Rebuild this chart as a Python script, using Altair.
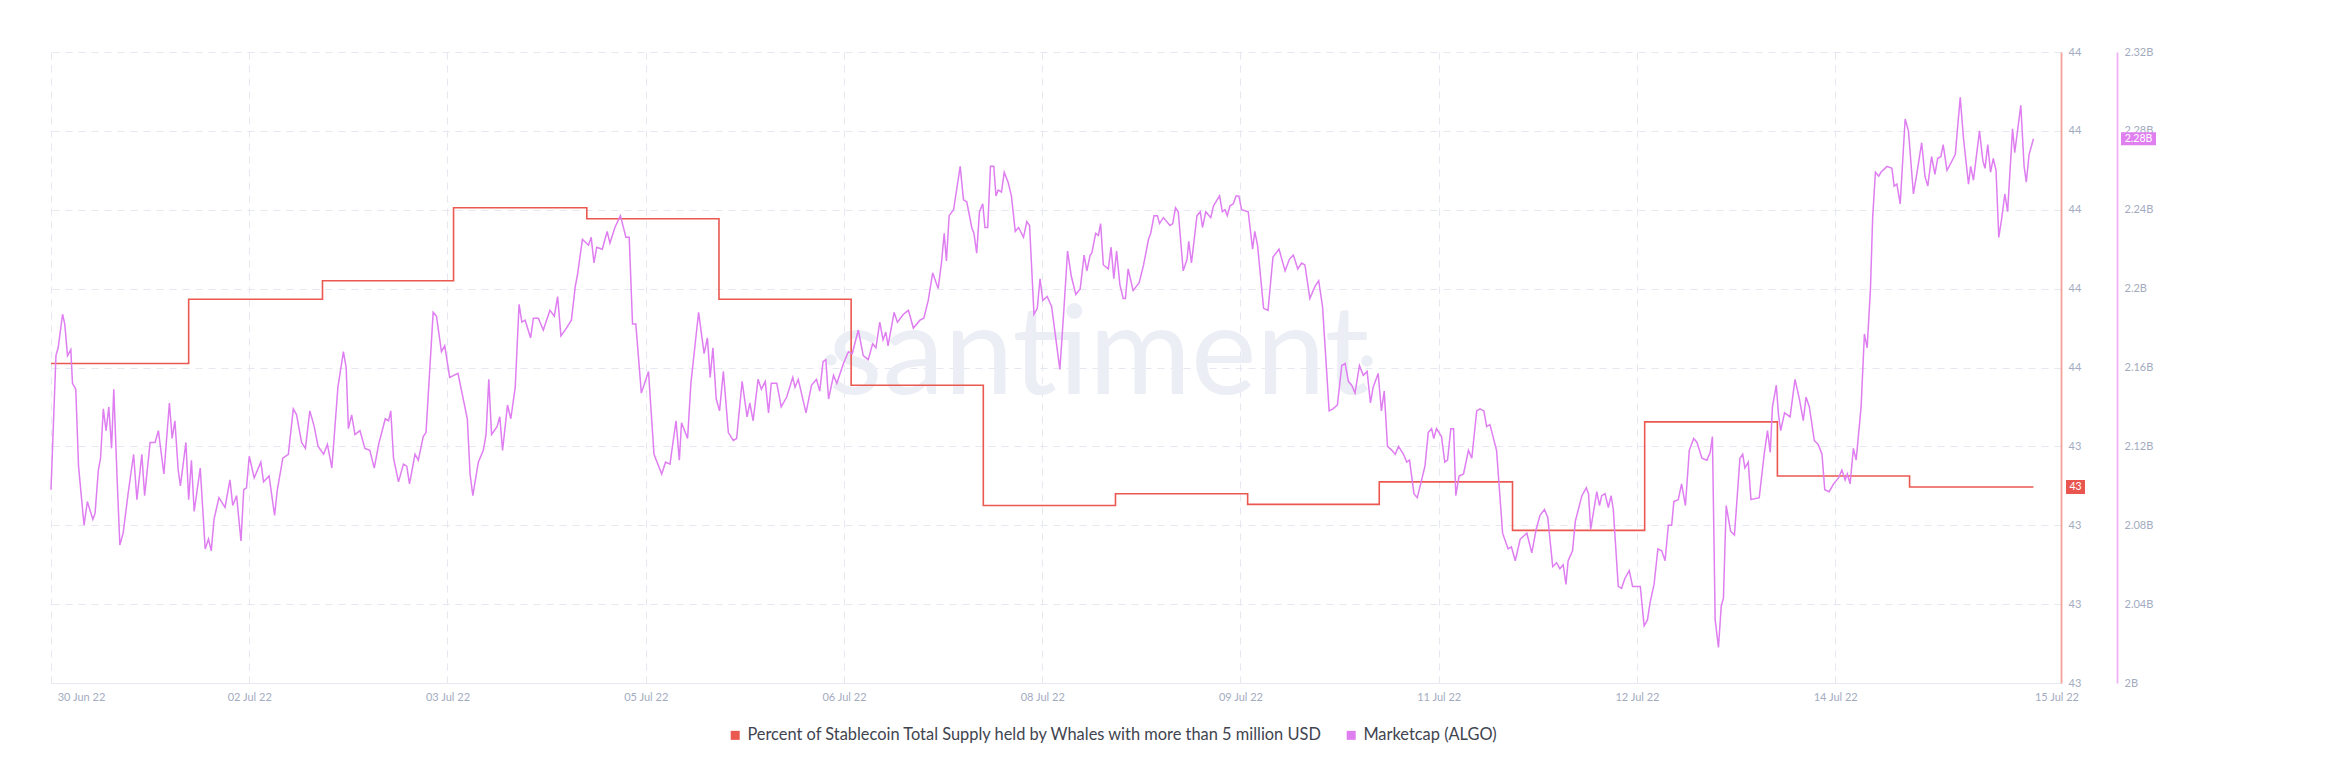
import altair as alt
import pandas as pd

SERIES = ["Percent of Stablecoin Total Supply held by Whales with more than 5 million USD",
          "Marketcap (ALGO)"]
SERIES_COLORS = ["#ea5850", "#df7ef1"]

X_TICK_HOURS = [0, 36, 72, 108, 144, 180, 216, 252, 288, 324, 360]
X_TICK_LABELS = ["30 Jun 22", "02 Jul 22", "03 Jul 22", "05 Jul 22", "06 Jul 22", "08 Jul 22",
                 "09 Jul 22", "11 Jul 22", "12 Jul 22", "14 Jul 22", "15 Jul 22"]

RED_TICKS = [43.15, 43.25, 43.35, 43.45, 43.55, 43.65, 43.75, 43.85, 43.95]
MCAP_TICKS = [2.0, 2.04, 2.08, 2.12, 2.16, 2.2, 2.24, 2.28, 2.32]
MCAP_TICK_LABELS = ["2B", "2.04B", "2.08B", "2.12B", "2.16B", "2.2B", "2.24B", "2.28B", "2.32B"]

# stablecoin whale share (%), step series: hour of change -> level
RED_HOURS = [0, 25.0, 49.3, 73.1, 97.3, 121.3, 145.3, 169.3, 193.3, 217.3, 241.2, 265.4,
             289.4, 313.5, 337.5, 360]
RED_VALUES = [43.555, 43.6365, 43.66, 43.7525, 43.7385, 43.6365, 43.5275, 43.375, 43.39,
              43.3765, 43.405, 43.3435, 43.481, 43.4125, 43.3985, 43.3985]

# ALGO marketcap (billions USD), hours since 30 Jun 22 00:00
MCAP_HOURS = [
    0.0, 0.9, 1.3, 2.1, 2.5, 3.0, 3.6, 3.9, 4.5, 5.0, 6.0, 6.6, 7.6, 8.0, 8.6, 9.0, 9.5, 10.0,
    10.5, 11.0, 11.4, 12.0, 12.5, 13.1, 14.0, 15.0, 15.6, 16.5, 17.0, 18.0, 18.9, 19.5, 20.5,
    21.5, 22.0, 22.5, 23.1, 23.5, 24.5, 25.0, 25.5, 26.0, 27.1, 28.0, 28.6, 29.1, 29.6, 30.5,
    31.6, 32.5, 33.0, 33.7, 34.5, 35.0, 35.5, 36.0, 36.9, 38.1, 38.6, 39.6, 40.6, 41.1, 42.1,
    43.1, 44.0, 44.6, 45.5, 46.2, 47.0, 47.8, 48.5, 49.5, 50.2, 51.0, 52.1, 53.1, 53.6, 54.0,
    54.6, 55.2, 56.1, 57.0, 57.9,
    58.7, 59.5, 60.7, 61.3, 61.7, 62.2, 63.1, 64.0, 64.6, 65.1, 66.1, 66.7, 67.6, 68.1, 69.4,
    70.0, 70.9, 71.5, 72.4, 73.9, 75.6, 76.1, 76.6, 77.6, 78.5, 79.0, 79.5, 80.0, 81.0, 81.5,
    82.0, 82.9, 83.5, 84.3, 85.0, 85.5, 86.1, 87.1, 87.6, 88.5, 89.4, 90.6, 91.4, 92.0, 92.6,
    93.6, 94.5, 95.2, 95.6, 96.5, 97.6, 98.1, 98.6, 99.1, 100.1, 101.0, 101.5, 102.4, 103.4,
    104.4, 105.0, 105.6, 106.2, 107.2, 108.5, 109.5, 110.9, 111.6, 112.4, 113.5, 114.1, 114.5,
    115.6, 116.2, 117.6,
    118.6, 119.2, 119.7, 120.2, 120.8, 121.4, 122.1, 123.0, 123.9, 124.5, 125.5, 126.4, 126.9,
    127.5, 128.4, 129.0, 129.7, 130.3, 130.8, 131.8, 132.6, 133.6, 134.7, 135.1, 135.7, 137.1,
    138.1, 139.0, 139.6, 140.2, 140.7, 141.2, 142.1, 142.7, 143.9, 144.8, 145.5, 146.6, 147.5,
    148.4, 149.2, 149.8, 150.5, 151.1, 151.6, 152.0, 153.1, 153.7, 154.8, 155.7, 156.6, 157.8,
    158.5, 159.3, 160.1, 161.1, 161.7, 162.2, 162.6, 163.1, 163.9, 165.1, 165.7, 166.3, 167.2,
    167.6, 168.1, 168.6, 169.2, 169.6, 170.1, 170.6, 171.2, 171.6, 172.0, 172.6, 173.1, 173.8,
    174.4, 175.1, 175.7, 176.6, 177.2, 177.7,
    178.5, 179.1, 179.6, 180.1, 180.9, 181.7, 183.2, 183.9, 184.6, 185.3, 186.1, 186.9, 187.6,
    188.1, 188.7, 189.0, 189.7, 190.2, 190.6, 191.1, 192.0, 192.5, 193.0, 193.5, 194.1, 194.7,
    195.1, 195.6, 196.5, 197.6, 198.4, 199.3, 199.7, 200.3, 200.9, 201.3, 202.0, 203.2, 203.7,
    204.2, 204.7, 205.6, 206.3, 206.6, 207.1, 208.1, 208.7, 209.1, 209.7, 210.6, 211.1, 212.2,
    212.7, 213.2, 213.6, 214.1, 214.7, 215.2, 215.7, 216.2, 217.4, 218.2, 218.6, 219.1, 220.2,
    221.0, 221.9, 223.0, 224.1, 224.9, 225.6, 226.4, 227.1, 227.7, 228.6, 229.5, 230.2, 230.9,
    232.1, 232.8, 233.6, 234.4, 235.0, 235.6, 236.2, 236.8, 237.6,
    238.3, 239.0, 239.6, 240.1, 241.0, 241.6, 242.1, 242.7, 243.5, 244.1, 244.7, 245.6, 246.2,
    246.7, 247.5, 248.1, 248.9, 249.5, 250.1, 250.7, 251.1, 251.6, 252.5, 253.1, 253.6, 254.2,
    254.7, 255.1, 255.7, 256.5, 257.4, 258.0, 258.9, 259.5, 260.2, 260.7, 261.3, 262.5, 263.6,
    264.6, 265.2, 265.9, 266.8, 268.0, 268.9, 269.7, 270.4, 271.2, 271.8, 272.7, 273.4, 274.0,
    274.6, 275.1, 275.5, 276.3, 276.8, 278.0, 278.8, 279.2, 279.6, 280.7, 281.2, 281.6, 282.2,
    282.8, 283.3, 283.7, 284.6, 285.2, 285.8, 286.6, 287.2, 288.6, 289.3, 289.9, 290.4, 291.1,
    291.8, 292.5, 293.1, 293.7, 294.3, 294.7, 295.5, 296.1, 296.8, 297.5, 298.3, 298.9,
    299.8, 300.7, 301.3, 301.7, 302.2, 302.8, 303.3, 303.7, 304.2, 305.0, 305.7, 306.7, 307.2,
    307.6, 308.2, 308.7, 310.2, 311.1, 311.7, 312.2, 312.6, 313.3, 313.7, 314.1, 314.8, 315.8,
    316.7, 317.5, 318.2, 318.7, 319.3, 320.2, 320.9, 321.6, 322.1, 322.9, 323.7, 324.6, 325.2,
    325.8, 326.2, 326.7, 327.3, 327.8, 328.7, 329.3, 329.8, 330.4, 330.8, 331.3, 331.9, 332.3,
    333.4, 334.3, 334.7, 335.2, 335.8, 336.7, 337.3, 338.2, 338.8, 339.7, 340.3, 340.8, 341.5,
    342.1, 342.6, 343.2, 343.6, 344.3, 345.8, 346.7, 347.3, 348.2, 348.6, 349.1, 350.2, 350.8,
    351.2, 351.7, 352.2, 352.7, 353.2, 353.7, 354.2, 354.8, 355.3, 356.2, 356.6, 357.7, 358.3,
    358.7, 359.2, 360.0]

MCAP_VALUES = [
    2.098, 2.166, 2.17, 2.187, 2.182, 2.166, 2.169, 2.152, 2.149, 2.11, 2.08, 2.092, 2.083, 2.086,
    2.108, 2.114, 2.139, 2.128, 2.14, 2.119, 2.149, 2.104, 2.07, 2.076, 2.096, 2.116, 2.093,
    2.116, 2.095, 2.122, 2.122, 2.128, 2.106, 2.142, 2.124, 2.133, 2.108, 2.10, 2.122, 2.093,
    2.113, 2.087, 2.109, 2.068, 2.073, 2.067, 2.083, 2.094, 2.089, 2.103, 2.09, 2.095, 2.072,
    2.098, 2.099, 2.115, 2.104, 2.112, 2.102, 2.105, 2.085, 2.098, 2.114, 2.116, 2.139, 2.136,
    2.122, 2.119, 2.138, 2.13, 2.12, 2.116, 2.121, 2.109, 2.15, 2.168, 2.16, 2.129, 2.136, 2.126,
    2.128, 2.119, 2.118,
    2.109, 2.121, 2.134, 2.133, 2.138, 2.114, 2.102, 2.111, 2.11, 2.101, 2.116, 2.113, 2.125,
    2.127, 2.188, 2.186, 2.168, 2.171, 2.155, 2.157, 2.134, 2.106, 2.095, 2.112, 2.118, 2.126,
    2.154, 2.126, 2.13, 2.135, 2.118, 2.141, 2.134, 2.15, 2.192, 2.183, 2.184, 2.175, 2.185,
    2.185, 2.179, 2.189, 2.186, 2.196, 2.176, 2.18, 2.184, 2.201, 2.207, 2.225, 2.222, 2.226,
    2.213, 2.221, 2.22, 2.229, 2.223, 2.231, 2.237, 2.226, 2.226, 2.182, 2.182, 2.147, 2.158,
    2.116, 2.106, 2.112, 2.111, 2.133, 2.113, 2.132, 2.124, 2.152, 2.188,
    2.167, 2.175, 2.155, 2.17, 2.144, 2.138, 2.158, 2.127, 2.123, 2.124, 2.153, 2.135, 2.142,
    2.133, 2.154, 2.149, 2.153, 2.137, 2.152, 2.152, 2.14, 2.145, 2.155, 2.15, 2.154, 2.137,
    2.151, 2.154, 2.148, 2.163, 2.164, 2.144, 2.156, 2.152, 2.162, 2.168, 2.167, 2.179, 2.166,
    2.164, 2.172, 2.17, 2.183, 2.174, 2.178, 2.171, 2.188, 2.183, 2.187, 2.189, 2.18, 2.184,
    2.185, 2.194, 2.208, 2.2, 2.213, 2.228, 2.214, 2.237, 2.24, 2.262, 2.245, 2.244, 2.231,
    2.228, 2.218, 2.239, 2.243, 2.231, 2.231, 2.262, 2.262, 2.247, 2.25, 2.249, 2.259, 2.254,
    2.247, 2.229, 2.231, 2.226, 2.234, 2.232,
    2.187, 2.19, 2.205, 2.194, 2.196, 2.191, 2.159, 2.188, 2.219, 2.206, 2.197, 2.2, 2.217,
    2.209, 2.217, 2.218, 2.228, 2.227, 2.233, 2.212, 2.21, 2.221, 2.205, 2.219, 2.202, 2.195,
    2.195, 2.21, 2.199, 2.203, 2.212, 2.225, 2.228, 2.237, 2.237, 2.233, 2.236, 2.232, 2.233,
    2.241, 2.239, 2.209, 2.215, 2.224, 2.213, 2.237, 2.239, 2.231, 2.239, 2.236, 2.242, 2.247,
    2.239, 2.24, 2.237, 2.242, 2.243, 2.247, 2.247, 2.24, 2.239, 2.22, 2.229, 2.222, 2.19,
    2.189, 2.216, 2.22, 2.209, 2.215, 2.217, 2.21, 2.213, 2.212, 2.195, 2.201, 2.204, 2.191,
    2.138, 2.139, 2.141, 2.161, 2.162, 2.153, 2.151, 2.147, 2.161,
    2.156, 2.158, 2.142, 2.15, 2.157, 2.138, 2.148, 2.12, 2.118, 2.116, 2.12, 2.116, 2.112,
    2.113, 2.096, 2.094, 2.103, 2.11, 2.127, 2.129, 2.124, 2.129, 2.125, 2.112, 2.113, 2.129,
    2.129, 2.095, 2.105, 2.106, 2.118, 2.114, 2.138, 2.139, 2.138, 2.13, 2.131, 2.118, 2.076,
    2.068, 2.069, 2.062, 2.073, 2.076, 2.066, 2.078, 2.085, 2.088, 2.084, 2.059, 2.061, 2.058,
    2.06, 2.05, 2.062, 2.067, 2.082, 2.095, 2.099, 2.096, 2.078, 2.097, 2.09, 2.095, 2.096,
    2.089, 2.095, 2.088, 2.049, 2.048, 2.053, 2.057, 2.049, 2.049, 2.029, 2.032, 2.041, 2.05,
    2.068, 2.067, 2.062, 2.08, 2.08, 2.092, 2.093, 2.101, 2.09, 2.118, 2.124, 2.122,
    2.114, 2.113, 2.117, 2.125, 2.032, 2.018, 2.039, 2.043, 2.09, 2.077, 2.075, 2.114, 2.116,
    2.109, 2.112, 2.093, 2.094, 2.116, 2.128, 2.117, 2.14, 2.151, 2.136, 2.128, 2.137, 2.135,
    2.154, 2.144, 2.133, 2.145, 2.14, 2.123, 2.121, 2.116, 2.098, 2.097, 2.101, 2.104, 2.108,
    2.103, 2.106, 2.101, 2.119, 2.113, 2.14, 2.177, 2.17, 2.2, 2.236, 2.259, 2.257, 2.259,
    2.262, 2.261, 2.252, 2.253, 2.243, 2.286, 2.28, 2.248, 2.258, 2.274, 2.257, 2.252, 2.267,
    2.258, 2.266, 2.267, 2.273, 2.26, 2.268, 2.297, 2.276, 2.253, 2.262, 2.255, 2.28, 2.265,
    2.261, 2.273, 2.259, 2.266, 2.26, 2.226, 2.235, 2.248, 2.239, 2.281, 2.269, 2.293, 2.262,
    2.254, 2.268, 2.276]

WATERMARK = ["santiment"]

# ---- styling ----
FONT = "Lato"
LABEL_COLOR = "#a3abc0"
GRID_COLOR = "#e5e7f1"
WM_COLOR = "#eceef5"
W, H = 2010, 631

red_df = pd.DataFrame({"h": RED_HOURS, "v": RED_VALUES, "series": SERIES[0]})
mcap_df = pd.DataFrame({"h": MCAP_HOURS, "v": MCAP_VALUES, "series": SERIES[1]})

x_enc = alt.X(
    "h:Q",
    scale=alt.Scale(domain=[0, 365], nice=False, zero=False),
    axis=alt.Axis(
        values=X_TICK_HOURS,
        labelExpr=f"{X_TICK_LABELS}[round(datum.value / 36)]",
        title=None,
        ticks=False,
        grid=True,
        gridColor=GRID_COLOR,
        gridDash=[7, 6],
        gridOpacity={"condition": {"test": "datum.value == 360", "value": 0}, "value": 1},
        domain=True,
        domainColor="#e6e8f2",
        labelColor=LABEL_COLOR,
        labelFont=FONT,
        labelFontSize=11,
        labelPadding=8,
        labelFlush=False,
        labelOffset={"condition": [{"test": "datum.value == 0", "value": 30},
                                   {"test": "datum.value == 360", "value": 23}], "value": 0},
    ),
)

color_enc = alt.Color(
    "series:N",
    scale=alt.Scale(domain=SERIES, range=SERIES_COLORS),
    legend=alt.Legend(
        title=None, orient="none", legendX=676, legendY=675, direction="horizontal",
        symbolType="square", symbolSize=1, symbolStrokeWidth=8,
        labelFont=FONT, labelFontSize=16.4, labelColor="#40444f", labelLimit=1000,
        columnPadding=10, labelOffset=4,
    ),
)

red_scale = alt.Scale(domain=[43.15, 43.95], nice=False, zero=False)
mcap_scale = alt.Scale(domain=[2.0, 2.32], nice=False, zero=False)

red_axis = alt.Axis(
    orient="right", values=RED_TICKS, format=".0f", title=None, ticks=False,
    grid=True, gridColor=GRID_COLOR, gridDash=[7, 6],
    domain=True, domainColor="#f4a19b", domainWidth=1.8,
    labelColor=LABEL_COLOR, labelFont=FONT, labelFontSize=11, labelPadding=7,
)
mcap_axis = alt.Axis(
    orient="right", offset=56, values=MCAP_TICKS,
    labelExpr=f"{MCAP_TICK_LABELS}[round((datum.value - 2) / 0.04)]",
    title=None, ticks=False, grid=False,
    domain=True, domainColor="#f0b2f7", domainWidth=1.8,
    labelColor=LABEL_COLOR, labelFont=FONT, labelFontSize=11, labelPadding=7,
)
red_y = alt.Y("v:Q", scale=red_scale, axis=red_axis)
mcap_y = alt.Y("v:Q", scale=mcap_scale, axis=mcap_axis)

# watermark: word plus the two round dots of the logo
watermark = alt.Chart(pd.DataFrame({"t": WATERMARK})).mark_text(
    font=FONT, fontSize=124, color=WM_COLOR, align="center", baseline="alphabetic"
).encode(x=alt.value(1048), y=alt.value(342), text="t:N")
wm_dot_left = alt.Chart(pd.DataFrame({"t": WATERMARK})).mark_circle(
    size=133, color=WM_COLOR, opacity=1
).encode(x=alt.value(780), y=alt.value(308))
wm_dot_right = alt.Chart(pd.DataFrame({"t": WATERMARK})).mark_circle(
    size=133, color=WM_COLOR, opacity=1
).encode(x=alt.value(1316), y=alt.value(309))

red_line = alt.Chart(red_df).mark_line(interpolate="step-after", strokeWidth=1.6).encode(
    x=x_enc, y=red_y, color=color_enc
)
red_last = red_df.tail(1)
red_box = alt.Chart(red_last).mark_rect(color="#e8564f", yOffset=-7, y2Offset=7).encode(
    x=alt.value(2015), x2=alt.value(2034), y=red_y, y2="v:Q",
)
red_text = alt.Chart(red_last).mark_text(
    color="white", font=FONT, fontSize=10.5, align="center", baseline="middle"
).encode(
    x=alt.value(2024.5), y=red_y, text=alt.Text("v:Q", format=".0f"),
)

mcap_line = alt.Chart(mcap_df).mark_line(strokeWidth=1.5).encode(
    x=x_enc, y=mcap_y, color=color_enc
)
mcap_last = mcap_df.tail(1)
mcap_box = alt.Chart(mcap_last).mark_rect(color="#df7ff0", yOffset=-6.5, y2Offset=6.5).encode(
    x=alt.value(2070), x2=alt.value(2105), y=mcap_y, y2="v:Q",
)
mcap_text = alt.Chart(mcap_last).transform_calculate(
    lbl="format(datum.v, '.2f') + 'B'"
).mark_text(
    color="white", font=FONT, fontSize=10.5, align="center", baseline="middle"
).encode(
    x=alt.value(2087.5), y=mcap_y, text="lbl:N",
)

red_layer = alt.layer(watermark, wm_dot_left, wm_dot_right, red_line, red_box, red_text)
mcap_layer = alt.layer(mcap_line, mcap_box, mcap_text)

chart = (
    alt.layer(red_layer, mcap_layer)
    .resolve_scale(y="independent")
    .properties(
        width=W, height=H,
        autosize=alt.AutoSizeParams(type="none"),
        padding={"left": 43, "top": 44, "right": 270, "bottom": 72},
        background="white",
    )
    .configure_view(stroke=None)
)

chart.save("out.html", embed_options={"renderer": "svg", "actions": False})
